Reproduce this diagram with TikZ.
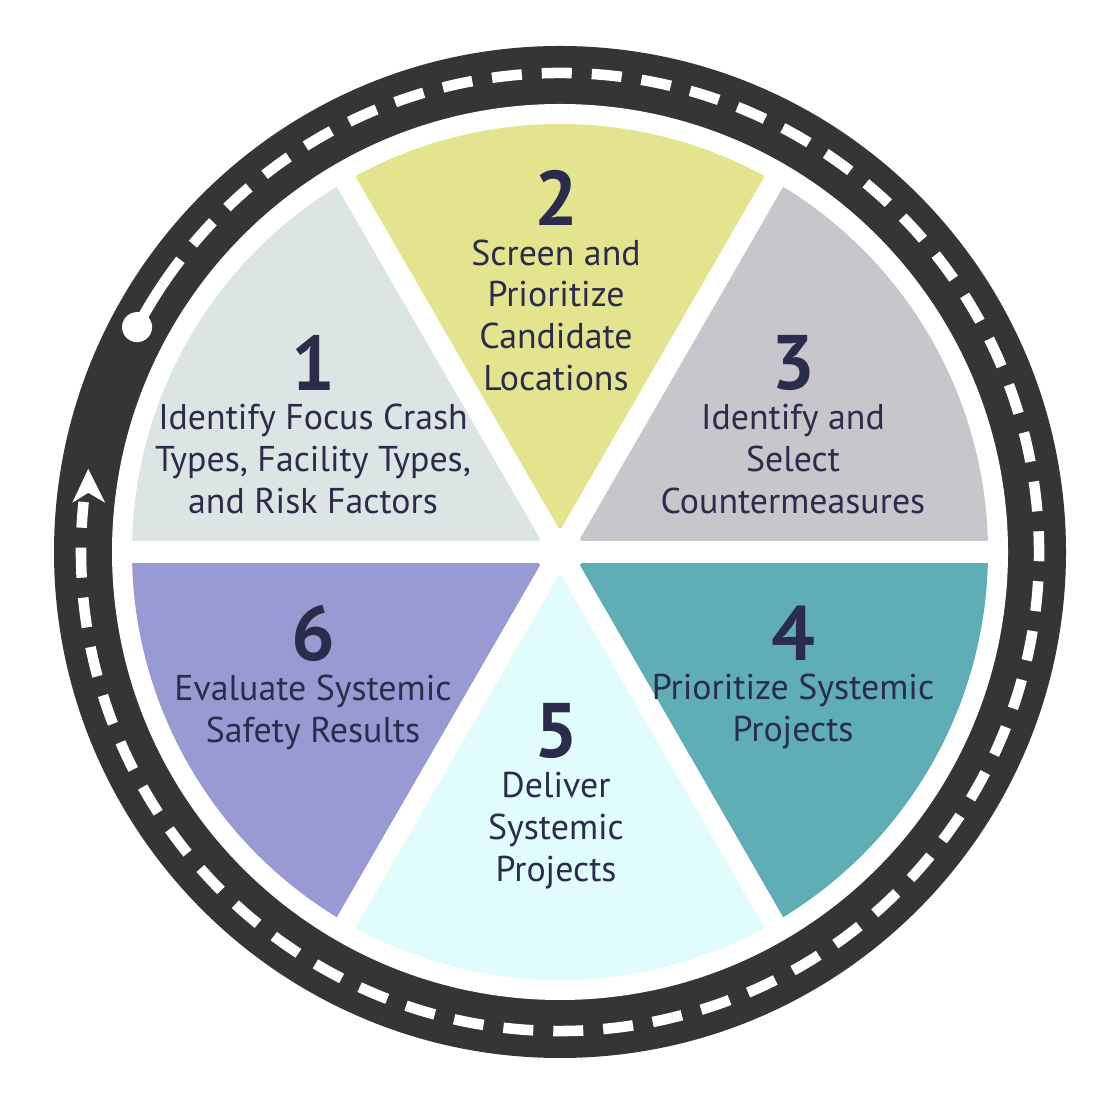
\documentclass[tikz,border=0pt]{standalone}
\usepackage{fontspec}
\setmainfont{PT Sans}
\usetikzlibrary{positioning}

\definecolor{road}{HTML}{353535}
\definecolor{ink}{HTML}{2B2B4B}
\definecolor{stepA}{HTML}{DCE5E3}
\definecolor{stepB}{HTML}{E4E48F}
\definecolor{stepC}{HTML}{C8C5CB}
\definecolor{stepD}{HTML}{5FADB5}
\definecolor{stepE}{HTML}{E0FCFC}
\definecolor{stepF}{HTML}{9999D4}

\begin{document}
\begin{tikzpicture}[
    num/.style={text=ink,font=\fontsize{22}{24}\selectfont\bfseries,inner sep=1pt},
    lbl/.style={text=ink,font=\fontsize{10.2}{11.9}\selectfont,align=center,
      inner sep=0pt}]

  \useasboundingbox (0,0) rectangle (11,10.97);
  \coordinate (c) at (5.6,5.45);

  % road ring
  \fill[road] (c) circle (5.06);
  \fill[white] (c) circle (4.48);
  \draw[white,line width=3pt,dash pattern=on 0.3cm off 0.2cm]
    ([shift={(146:4.79)}]c) arc (146:-186:4.79);
  \fill[white] ([shift={(152:4.79)}]c) circle (0.15);
  \draw[white,line width=3pt] ([shift={(152:4.79)}]c) arc (152:146:4.79);
  \fill[white] ([shift={(170:4.79)}]c) -- ++(-0.16,-0.34) -- ++(0.16,0.1)
    -- ++(0.17,-0.1) -- cycle;

  % sectors
  \foreach \a/\col in {120/stepA,60/stepB,0/stepC,-60/stepD,240/stepE,180/stepF}
    \fill[\col] (c) -- ([shift={(\a:4.28)}]c) arc (\a:\a+60:4.28) -- cycle;
  \foreach \a in {0,60,...,300}
    \draw[white,line width=6pt] (c) -- ([shift={(\a:4.35)}]c);
  \fill[white] (c) circle (0.24);

  % labels
  \node[num] (n1) at (3.13,7.34) {1};
  \node[lbl,below=0.09 of n1] {Identify Focus Crash\\Types, Facility Types,\\and Risk Factors};
  \node[num] (n2) at (5.56,8.99) {2};
  \node[lbl,below=0.09 of n2] {Screen and\\Prioritize\\Candidate\\Locations};
  \node[num] (n3) at (7.93,7.34) {3};
  \node[lbl,below=0.09 of n3] {Identify and\\Select\\Countermeasures};
  \node[num] (n4) at (7.93,4.64) {4};
  \node[lbl,below=0.09 of n4] {Prioritize Systemic\\Projects};
  \node[num] (n5) at (5.56,3.66) {5};
  \node[lbl,below=0.09 of n5] {Deliver\\Systemic\\Projects};
  \node[num] (n6) at (3.13,4.64) {6};
  \node[lbl,below=0.09 of n6] {Evaluate Systemic\\Safety Results};

\end{tikzpicture}
\end{document}
